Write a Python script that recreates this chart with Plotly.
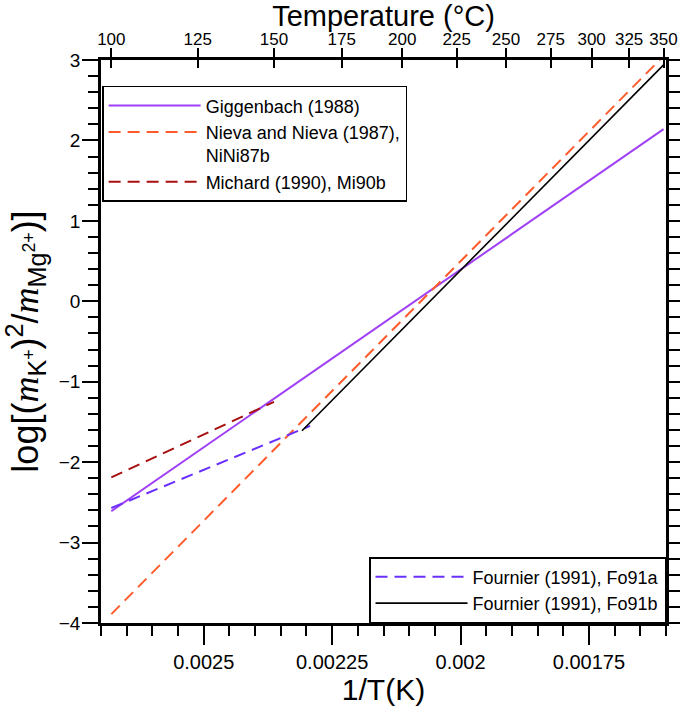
import plotly.graph_objects as go

# ---- data (x = 1/T in K^-1, y = log[(mK+)^2/mMg2+]) ----
gig_x = [0.0026799, 0.0016047]
gig_y = [-2.61, 2.14]
nieva_x = [0.0026799, 0.0016047]
nieva_y = [-3.89, 3.05]
michard_x = [0.0026799, 0.0023632]
michard_y = [-2.19, -1.25]
fo91a_x = [0.0026799, 0.0022928]
fo91a_y = [-2.57, -1.55]
fo91b_x = [0.0023087, 0.0016047]
fo91b_y = [-1.61, 2.94]

bottom_tickvals = [0.0025, 0.00225, 0.002, 0.00175]
bottom_ticktext = ["0.0025", "0.00225", "0.002", "0.00175"]
bottom_minor = [0.0027, 0.00265, 0.0026, 0.00255, 0.00245, 0.0024, 0.00235, 0.0023,
                0.0022, 0.00215, 0.0021, 0.00205, 0.00195, 0.0019, 0.00185, 0.0018,
                0.0017, 0.00165, 0.0016]
top_temps_C = [100, 125, 150, 175, 200, 225, 250, 275, 300, 325, 350]
top_ticktext = [str(t) for t in top_temps_C]
top_tickvals = [1.0 / (t + 273.15) for t in top_temps_C]

XR = [0.0027, 0.0016]
YR = [-4, 3]
FONT = "Liberation Sans, Arial, sans-serif"

fig = go.Figure()
fig.add_trace(go.Scatter(x=gig_x, y=gig_y, mode="lines", name="Giggenbach (1988)",
                         line=dict(color="#a040f5", width=2), legend="legend"))
fig.add_trace(go.Scatter(x=nieva_x, y=nieva_y, mode="lines", name="Nieva and Nieva (1987),<br>NiNi87b",
                         line=dict(color="#ff5a2a", width=2, dash="12px,7px"), legend="legend"))
fig.add_trace(go.Scatter(x=michard_x, y=michard_y, mode="lines", name="Michard (1990), Mi90b",
                         line=dict(color="#a81010", width=2, dash="12px,7px"), legend="legend"))
fig.add_trace(go.Scatter(x=fo91a_x, y=fo91a_y, mode="lines", name="Fournier (1991), Fo91a",
                         line=dict(color="#6a30ff", width=2, dash="12px,7px"), legend="legend2"))
fig.add_trace(go.Scatter(x=fo91b_x, y=fo91b_y, mode="lines", name="Fournier (1991), Fo91b",
                         line=dict(color="black", width=1.6), legend="legend2"))
# invisible traces to activate secondary axes
fig.add_trace(go.Scatter(x=XR, y=YR, mode="lines", line=dict(width=0), xaxis="x2", yaxis="y",
                         showlegend=False, hoverinfo="skip", opacity=0))
fig.add_trace(go.Scatter(x=XR, y=YR, mode="lines", line=dict(width=0), xaxis="x3", yaxis="y",
                         showlegend=False, hoverinfo="skip", opacity=0))
fig.add_trace(go.Scatter(x=XR, y=YR, mode="lines", line=dict(width=0), xaxis="x", yaxis="y2",
                         showlegend=False, hoverinfo="skip", opacity=0))

ytitle = ('log[(<span style="font-family:Liberation Serif"><i>m</i></span><sub>K<sup>+</sup></sub>)<sup>2</sup>/'
          '<span style="font-family:Liberation Serif"><i>m</i></span><sub>Mg<sup>2+</sup></sub>)]')

fig.update_layout(
    width=685, height=709,
    margin=dict(l=101, r=19, t=60, b=86, autoexpand=False),
    paper_bgcolor="white", plot_bgcolor="white",
    font=dict(family=FONT, color="black"),
    xaxis=dict(range=XR, automargin=False, showgrid=False, zeroline=False, showline=True, linecolor="black",
               linewidth=2.5, ticks="outside", ticklen=19, tickwidth=2, tickcolor="black",
               tickvals=bottom_tickvals, ticktext=bottom_ticktext, tickfont=dict(size=20),
               ticklabelstandoff=0,
               minor=dict(tickvals=bottom_minor, ticks="outside", ticklen=10, tickwidth=2, tickcolor="black"),
               title=dict(text="1/T(K)", font=dict(size=30), standoff=8)),
    xaxis2=dict(range=XR, automargin=False, overlaying="x", side="top", showgrid=False, zeroline=False,
                showline=True, linecolor="black", linewidth=2.5, ticks="outside", ticklen=9, tickwidth=2,
                tickcolor="black", tickvals=top_tickvals, ticktext=top_ticktext, tickfont=dict(size=17),
                ticklabelstandoff=-4,
                title=dict(text="Temperature (°C)", font=dict(size=29), standoff=10)),
    xaxis3=dict(range=XR, automargin=False, overlaying="x", side="top", showgrid=False, zeroline=False,
                showline=False, ticks="inside", ticklen=8, tickwidth=2, tickcolor="black",
                tickvals=top_tickvals, showticklabels=False),
    yaxis=dict(range=YR, automargin=False, showgrid=False, zeroline=False, showline=True, linecolor="black",
               linewidth=2.5, ticks="outside", ticklen=16, tickwidth=2, tickcolor="black", dtick=1,
               tickfont=dict(size=19), ticklabelstandoff=-2,
               minor=dict(dtick=0.2, ticks="outside", ticklen=10, tickwidth=2, tickcolor="black"),
               title=dict(text=ytitle, font=dict(size=36), standoff=12)),
    yaxis2=dict(range=YR, automargin=False, overlaying="y", side="right", showgrid=False, zeroline=False,
                showline=True, linecolor="black", linewidth=2.5, ticks="outside", ticklen=11, tickwidth=2,
                tickcolor="black", dtick=0.2, showticklabels=False),
    legend=dict(x=0.002, y=0.954, xanchor="left", yanchor="top", bgcolor="white", bordercolor="black",
                borderwidth=1.5, font=dict(size=18), itemwidth=92, valign="top", tracegroupgap=0),
    legend2=dict(x=1, y=0, xanchor="right", yanchor="bottom", bgcolor="white", bordercolor="black",
                 borderwidth=1.5, font=dict(size=18), itemwidth=92, tracegroupgap=0),
    showlegend=True,
)

fig.write_html("out.html", config={"displayModeBar": False},
               post_script="document.body.style.margin='0';document.body.style.padding='0';")
